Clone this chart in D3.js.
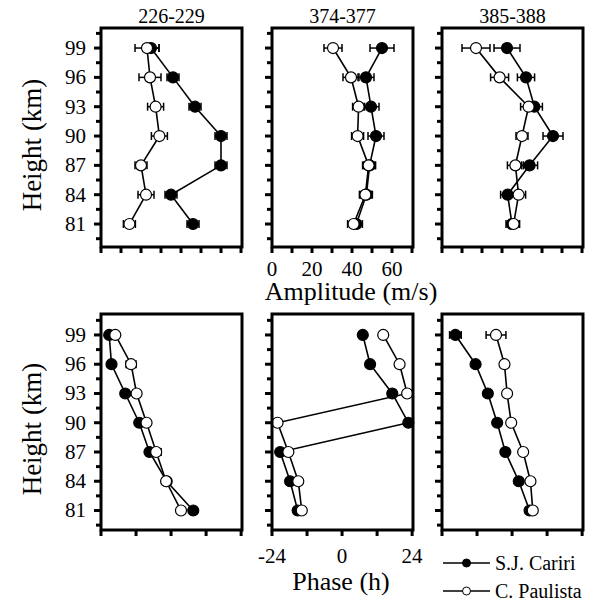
<!DOCTYPE html>
<html>
<head>
<meta charset="utf-8">
<script src="https://cdn.jsdelivr.net/npm/d3@7"></script>
</head>
<body style="margin:0">
<svg id="chart" width="602" height="600" style="font-family:'Liberation Serif','Times New Roman',serif">
<text x="351" y="300" text-anchor="middle" style="font-family:'Liberation Serif','Times New Roman',serif;font-size:26px">Amplitude (m/s)</text>
</svg>
<script>
// heights (km), top to bottom
var heights = [99,96,93,90,87,84,81];
var heightTicks = [81,84,87,90,93,96,99];
var panelTitles = ["226-229","374-377","385-388"];

// amplitude (m/s)
var ampCariri   = [[25,36,47,60,60,35,46],[55,47,49.5,52,48.8,47.2,42.2],[32.5,42,46.2,55.5,43.8,32.8,35]];
var ampCaririErr= [[4,3,3,3,3,3,3],[6,4,4,4,3,3,3],[6.5,4.3,4,5,4,3.5,3]];
var ampPaulista = [[23,24.5,27.3,29.2,20,22.5,14.2],[30.5,39.5,43.3,42.8,48.3,46.7,40.8],[17,28.8,43.3,40,36.7,38.3,35.8]];
var ampPaulistaErr=[[6,5.5,4,4,3,4,3],[4.5,4,3,3,3,3,3],[7,4.5,4,3,4,3.5,3]];
var ampTicks = [0,10,20,30,40,50,60,70];
var ampLabels = [0,20,40,60];

// phase (h)
var phCariri   = [[-21.2,-20.4,-15.7,-10.9,-7.4,-1.5,7.6],[7.1,9.6,17.2,22.7,-21.2,-17.8,-15.2],[-19.4,-12.5,-8.3,-5.1,-2.3,2.3,6]];
var phCaririErr= [[0.6,0.6,0.6,0.6,0.6,0.8,0.8],[0.5,0.5,0.5,0.5,0.6,0.6,0.6],[2,0.6,0.6,0.6,0.6,0.6,0.6]];
var phPaulista = [[-19.1,-13.7,-11.8,-8.4,-5.1,-1.7,3.4],[14.1,19.7,22.3,-22.1,-18.4,-15,-13.8],[-5.5,-2.6,-1.7,-0.3,3.8,6.3,7.1]];
var phPaulistaErr=[[0.8,1.7,0.8,0.8,1.7,0.8,0.8],[0.8,0.8,0.8,0.8,0.8,0.8,0.8],[3.4,0.8,0.8,0.8,0.8,0.8,0.8]];
var phTicks = [-24,-12,0,12,24];
var phLabels = [-24,0,24];

var legendNames = ["S.J. Cariri","C. Paulista"];

var FONT = "'Liberation Serif','Times New Roman',serif";

var svg = d3.select("#chart");

// every text gets the serif family as an inline style
var addText = function(parent,size){
    return parent.append("text")
        .style("font-family",FONT)
        .style("font-size",size+"px");
};

var colX = [101,272,442];
var panelW = 141;
var rows = [
    {top:28, height:219, domain:[78.65,101.05]},
    {top:314, height:216, domain:[79.0,101.15]}
];

var drawPanel = function(row,col,xScale,filled,filledErr,open,openErr,xTicks,xLabels,labelY)
{
    var r = rows[row];
    var g = svg.append("g")
        .attr("transform","translate("+colX[col]+","+r.top+")");
    var yScale = d3.scaleLinear().domain(r.domain).range([r.height,0]);

    // minor + major ticks on left
    var minor = d3.range(79.5,101,1.5).filter(function(v){return v>r.domain[0]&&v<r.domain[1];});
    g.selectAll(".yt").data(minor).enter().append("line")
        .attr("x1",function(d){return (d-81)%3==0?-7:-5;}).attr("x2",0)
        .attr("y1",function(d){return yScale(d);})
        .attr("y2",function(d){return yScale(d);})
        .attr("stroke","#000").attr("stroke-width",3);

    if(col==0){
        heightTicks.forEach(function(d){
            addText(g,21).attr("x",-15).attr("y",yScale(d))
                .attr("dy","0.33em").attr("text-anchor","end").text(d);
        });
    }

    g.selectAll(".xt").data(xTicks).enter().append("line")
        .attr("x1",function(d){return xScale(d);})
        .attr("x2",function(d){return xScale(d);})
        .attr("y1",r.height).attr("y2",r.height+6)
        .attr("stroke","#000").attr("stroke-width",3);

    if(xLabels){
        xLabels.forEach(function(d){
            addText(g,21).attr("x",xScale(d)).attr("y",labelY-r.top)
                .attr("text-anchor","middle").text(d);
        });
    }

    var series = [
        {vals:filled, err:filledErr, fill:"#000"},
        {vals:open, err:openErr, fill:"#fff"}
    ];
    var line = d3.line()
        .x(function(d){return xScale(d[0]);})
        .y(function(d){return yScale(d[1]);});

    series.forEach(function(s){
        var pts = s.vals.map(function(v,i){return [v,heights[i],s.err[i]];});
        g.append("path").datum(pts).attr("d",line)
            .attr("fill","none").attr("stroke","#000").attr("stroke-width",1.6);
        var eb = g.append("g");
        pts.forEach(function(p){
            var y = yScale(p[1]);
            var x0 = xScale(p[0]-p[2]), x1 = xScale(p[0]+p[2]);
            eb.append("line").attr("x1",x0).attr("x2",x1).attr("y1",y).attr("y2",y)
                .attr("stroke","#000").attr("stroke-width",1.5);
            [x0,x1].forEach(function(x){
                eb.append("line").attr("x1",x).attr("x2",x).attr("y1",y-4).attr("y2",y+4)
                    .attr("stroke","#000").attr("stroke-width",1.5);
            });
        });
        g.selectAll(null).data(pts).enter().append("circle")
            .attr("cx",function(d){return xScale(d[0]);})
            .attr("cy",function(d){return yScale(d[1]);})
            .attr("r",5.5).attr("fill",s.fill)
            .attr("stroke","#000").attr("stroke-width",1.2);
    });

    g.append("rect").attr("x",0).attr("y",0)
        .attr("width",panelW).attr("height",r.height)
        .attr("fill","none").attr("stroke","#000").attr("stroke-width",3);
};

var ampScale = d3.scaleLinear().domain([0,70.5]).range([0,panelW]);
var phScale = d3.scaleLinear().domain([-24,24.3]).range([0,panelW]);

for(var c=0;c<3;c++){
    drawPanel(0,c,ampScale,ampCariri[c],ampCaririErr[c],ampPaulista[c],ampPaulistaErr[c],ampTicks,c==1?ampLabels:null,276);
    drawPanel(1,c,phScale,phCariri[c],phCaririErr[c],phPaulista[c],phPaulistaErr[c],phTicks,c==1?phLabels:null,563);
    addText(svg,20).attr("x",colX[c]+panelW/2).attr("y",23)
        .attr("text-anchor","middle").text(panelTitles[c]);
}

// axis titles
addText(svg,26).attr("x",341).attr("y",590).attr("text-anchor","middle").text("Phase (h)");
[[0,145],[1,429]].forEach(function(p){
    addText(svg,27)
        .attr("transform","translate(41,"+p[1]+") rotate(-90)")
        .attr("text-anchor","middle").text("Height (km)");
});

// legend
var legY = [563,591];
legendNames.forEach(function(n,i){
    var lg = svg.append("g").attr("transform","translate(443,"+legY[i]+")");
    lg.append("line").attr("x1",0).attr("x2",47).attr("y1",0).attr("y2",0)
        .attr("stroke","#000").attr("stroke-width",1.5);
    lg.append("circle").attr("cx",23.5).attr("cy",0).attr("r",4)
        .attr("fill",i==0?"#000":"#fff").attr("stroke","#000").attr("stroke-width",1);
    addText(lg,20).attr("x",52).attr("y",0).attr("dy","0.33em").text(n);
});
</script>
</body>
</html>
